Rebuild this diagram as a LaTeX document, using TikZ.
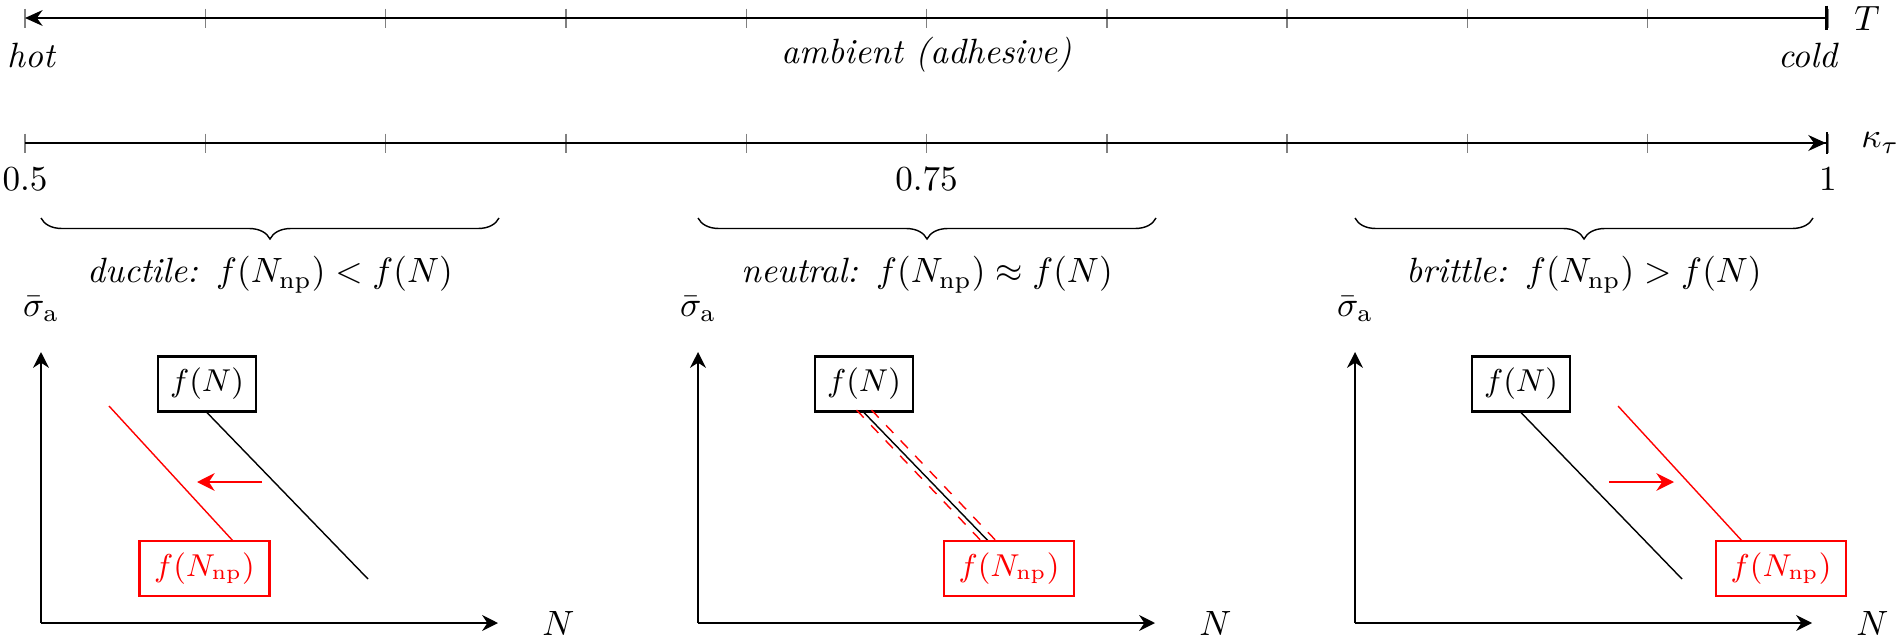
\documentclass[tikz,border=0pt]{standalone}
\usepackage{amsmath}
\usepackage{xcolor}
\usepackage{tikz}
\usetikzlibrary{arrows.meta, positioning, decorations.pathreplacing}

\begin{document}
\begin{tikzpicture}[
  axisline/.style={semithick},
  tickmark/.style={gray, thin},
  brc/.style={decorate, decoration={brace, mirror, amplitude=0.21cm}},
  plotaxis/.style={semithick, -{Stealth[length=4.5pt, width=4.5pt]}},
  fbox/.style={draw, semithick, fill=white, font=\small,
               minimum width=0.98cm, minimum height=0.52cm},
  npbox/.style={fbox, draw=red, text=red, minimum width=1.30cm, minimum height=0.55cm},
  curve/.style={thin},
  npcurve/.style={thin, red},
  movearrow/.style={thick, red, -{Stealth[length=5pt, width=5pt]}},
]
  \useasboundingbox (0,0) rectangle (19,-6.38);

  \coordinate (Tl) at (0.25,-0.18);
  \coordinate (Tr) at (18.28,-0.18);
  \coordinate (Kl) at (0.25,-1.43);
  \coordinate (Km) at (9.265,-1.43);
  \coordinate (Kr) at (18.28,-1.43);
  \foreach \x in {0,...,10} {
    \draw[tickmark] ({0.25+1.803*\x},-0.085) -- ++(0,-0.19);
    \draw[tickmark] ({0.25+1.803*\x},-1.335) -- ++(0,-0.19);
  }
  \draw[axisline, {Stealth[length=5pt, width=4.5pt]}-{Bar[width=7pt, line width=0.9pt]}] (Tl) -- (Tr);
  \draw[axisline, -{Stealth[length=5pt, width=4.5pt] Bar[width=6pt]}] (Kl) -- (Kr);

  \node (hot) at (0.32,-0.55) {\textit{hot}};
  \node (amb) at (9.27,-0.55) {\textit{ambient (adhesive)}};
  \node (cold) at (18.09,-0.55) {\textit{cold}};
  \node[right=0.14cm of Tr] (Tlab) {$T$};
  \node[right=0.21cm of Kr] (Klab) {$\kappa_\tau$};
  \node[below=0.12cm of Kl] (k05) {$0.5$};
  \node[below=0.12cm of Km] (k075) {$0.75$};
  \node[below=0.12cm of Kr] (k1) {$1$};

  \draw[brc] (0.41,-2.18) -- (4.99,-2.18)
    node[midway, below=0.26cm] (duct) {\textit{ductile:}~\,$f(N_\mathrm{np}) < f(N)$};
  \draw[brc] (6.98,-2.18) -- (11.56,-2.18)
    node[midway, below=0.26cm] (neut) {\textit{neutral:}~\,$f(N_\mathrm{np}) \approx f(N)$};
  \draw[brc] (13.55,-2.18) -- (18.13,-2.18)
    node[midway, below=0.26cm] (brit) {\textit{brittle:}~\,$f(N_\mathrm{np}) > f(N)$};

  \begin{scope}[shift={(0.41,-6.23)}]
    \coordinate (O1) at (0,0);
    \coordinate (Y1) at (0,2.71);
    \coordinate (X1) at (4.57,0);
    \draw[plotaxis] (O1) -- (Y1);
    \draw[plotaxis] (O1) -- (X1);
    \node (sig1) at (0,3.14) {$\bar{\sigma}_\mathrm{a}$};
    \node[right=0.32cm of X1] (N1) {$N$};
    \coordinate (e1) at (3.27,0.44);
    \coordinate (r1s) at (0.68,2.17);
    \coordinate (r1e) at (2.27,0.44);
    \draw[npcurve] (r1s) -- (r1e);
    \node[fbox] (f1) at (1.66,2.39) {$f(N)$};
    \draw[curve] (f1.south) -- (e1);
    \node[npbox] (g1) at (1.635,0.545) {$f(N_\mathrm{np})$};
    \coordinate (a1s) at (2.21,1.41);
    \coordinate (a1e) at (1.56,1.41);
    \draw[movearrow] (a1s) -- (a1e);
  \end{scope}

  \begin{scope}[shift={(6.98,-6.23)}]
    \coordinate (O2) at (0,0);
    \coordinate (Y2) at (0,2.71);
    \coordinate (X2) at (4.57,0);
    \draw[plotaxis] (O2) -- (Y2);
    \draw[plotaxis] (O2) -- (X2);
    \node (sig2) at (0,3.14) {$\bar{\sigma}_\mathrm{a}$};
    \node[right=0.32cm of X2] (N2) {$N$};
    \node[fbox] (f2) at (1.66,2.39) {$f(N)$};
    \coordinate (e2) at (3.27,0.44);
    \coordinate (d2s) at (1.585,2.13);
    \coordinate (d2e) at (3.195,0.44);
    \coordinate (u2s) at (1.735,2.13);
    \coordinate (u2e) at (3.345,0.44);
    \draw[curve] (f2.south) -- (e2);
    \draw[npcurve, dashed] (d2s) -- (d2e);
    \draw[npcurve, dashed] (u2s) -- (u2e);
    \node[npbox] (g2) at (3.11,0.545) {$f(N_\mathrm{np})$};
  \end{scope}

  \begin{scope}[shift={(13.55,-6.23)}]
    \coordinate (O3) at (0,0);
    \coordinate (Y3) at (0,2.71);
    \coordinate (X3) at (4.57,0);
    \draw[plotaxis] (O3) -- (Y3);
    \draw[plotaxis] (O3) -- (X3);
    \node (sig3) at (0,3.14) {$\bar{\sigma}_\mathrm{a}$};
    \node[right=0.32cm of X3] (N3) {$N$};
    \coordinate (e3) at (3.27,0.44);
    \coordinate (r3s) at (2.63,2.17);
    \coordinate (r3e) at (4.22,0.44);
    \draw[npcurve] (r3s) -- (r3e);
    \node[fbox] (f3) at (1.66,2.39) {$f(N)$};
    \draw[curve] (f3.south) -- (e3);
    \node[npbox] (g3) at (4.26,0.545) {$f(N_\mathrm{np})$};
    \coordinate (a3s) at (2.54,1.41);
    \coordinate (a3e) at (3.19,1.41);
    \draw[movearrow] (a3s) -- (a3e);
  \end{scope}
\end{tikzpicture}
\end{document}
